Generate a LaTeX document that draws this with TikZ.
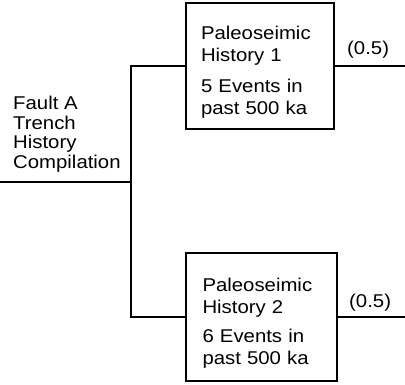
\documentclass[tikz,border=0pt]{standalone}
\usepackage{fontspec}
\setmainfont[FakeStretch=1.1]{Liberation Sans}
\usetikzlibrary{positioning}
\tikzset{
  histbox/.style ={draw=black,line width=1.9pt,minimum width=148pt,minimum height=126pt,
                   text width=118pt,align=left,inner sep=0pt,
                   font=\fontsize{18.5}{21.5}\selectfont,
                   execute at begin node={\rule{0pt}{26pt}}},
  branch/.style  ={black,line width=1.4pt},
  lbl/.style     ={font=\fontsize{18.5}{19.5}\selectfont,inner sep=0pt,align=left},
  plbl/.style    ={font=\fontsize{18.5}{20}\selectfont,inner sep=0pt},
}
\begin{document}
\begin{tikzpicture}[x=1pt,y=-1pt]
\useasboundingbox (0,0) rectangle (405,385);

% root of the logic tree
\node[lbl,anchor=north west] (root) at (13,96)
  {Fault A\\Trench\\History\\Compilation};
\coordinate (in)   at (0,182);
\coordinate (fork) at (131,182);

% the two branches
\node[histbox] (hist1) at (260,66)
  {Paleoseimic\\History 1\\[10pt]5 Events in\\past 500 ka};
\node[histbox,minimum width=151pt,minimum height=128pt] (hist2) at (261.5,317)
  {Paleoseimic\\History 2\\[8pt]6 Events in\\past 500 ka};

\coordinate (out1) at (405,66);
\coordinate (out2) at (405,317);

\draw[branch] (in) -- (fork);
\draw[branch] (fork) |- (hist1.west);
\draw[branch] (fork) |- (hist2.west);
\draw[branch] (hist1.east) -- (out1);
\draw[branch] (hist2.east) -- (out2);

% branch weights
\node[plbl,anchor=base west] (w1) at (347,55) {(0.5)};
\node[plbl,anchor=base west] (w2) at (349,308) {(0.5)};
\end{tikzpicture}
\end{document}
